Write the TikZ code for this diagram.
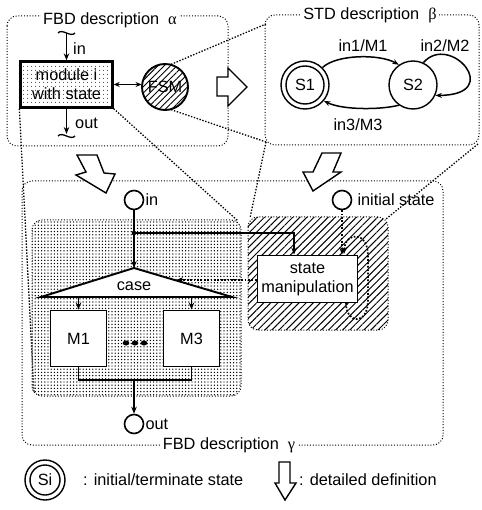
\documentclass[tikz,border=0pt]{standalone}
\usepackage{fontspec}
\setmainfont{Liberation Sans}
\newfontfamily\grk{Liberation Serif}
\usetikzlibrary{arrows.meta,patterns.meta}
\begin{document}
\begin{tikzpicture}[x=1pt,y=-1pt,
  every node/.style={font=\fontsize{16.3}{19}\selectfont, inner sep=1pt},
  frame/.style={line width=1pt, dash pattern=on 1pt off 1.8pt, rounded corners=10pt},
  proj/.style={line width=1.3pt, dash pattern=on 1.4pt off 1.6pt},
  thickbox/.style={draw, line width=1.9pt, fill=white},
  flow/.style={line width=1.5pt, -{Stealth[length=7pt,width=5.5pt]}},
  sflow/.style={line width=1.7pt, dash pattern=on 1.7pt off 1.7pt, -{Stealth[length=7pt,width=5.5pt]}},
  edge/.style={line width=1.5pt, -{Stealth[length=6.5pt,width=5pt]}},
  hollow/.style={draw, line width=1.4pt, fill=white, line join=miter},
  ttl/.style={fill=white, inner sep=2pt},
  port/.style={circle, draw, line width=1.6pt, minimum size=19pt, inner sep=0pt},
  state/.style={circle, draw, line width=1.4pt, inner sep=0pt},
]
\useasboundingbox (0,0) rectangle (481,510);
\fill[white] (0,0) rectangle (481,510);

% ---------- frames ----------
\draw[frame] (7,16) rectangle (228,146);
\draw[frame] (265,15) rectangle (479,145);
\draw[frame] (22,181) rectangle (443,445);

% shaded regions of FBD gamma
\path[pattern={Dots[distance=3.2pt,radius=0.72pt]}, rounded corners=10pt] (32,220) rectangle (241,396);
\draw[frame] (32,220) rectangle (241,396);
\path[pattern={Lines[angle=45,distance=5pt,line width=1pt]}, rounded corners=10pt] (248,217) rectangle (388,330);
\draw[frame] (248,217) rectangle (388,330);

% ---------- FBD alpha contents ----------
\node[draw, line width=2.3pt, pattern={Dots[distance=4pt,radius=0.6pt]}, minimum width=92pt, minimum height=46pt, align=center] (mod) at (66.5,84.5) {module i\\with state};
\node[circle, draw, line width=1.9pt, pattern={Lines[angle=45,distance=4.5pt,line width=0.9pt]}, minimum size=46pt, inner sep=0pt] (fsm) at (165,87) {FSM};
\draw[line width=1.5pt, {Stealth[length=6pt,width=5pt]}-{Stealth[length=6pt,width=5pt]}] (mod.east) -- (mod.east -| fsm.west);

\coordinate (inA) at (66.5,33);
\draw[line width=1.3pt] (58,33) .. controls (62,28) and (71,38) .. (75,33);
\draw[flow] (inA) -- (mod.north);
\coordinate (outA) at (66.5,134);
\draw[flow] (mod.south) -- (outA);
\draw[line width=1.3pt] (58,136) .. controls (62,131) and (71,141) .. (75,136);
\node[anchor=west] (lin) at (72,49) {in};
\node[anchor=west] (lout) at (74,123) {out};

% ---------- STD beta contents ----------
\node[state, minimum size=38pt] (s1) at (305,85) {S1};
\node[state, minimum size=48pt] (s1o) at (305,85) {};
\node[state, minimum size=48pt] (s2) at (413,85) {S2};
\draw[edge] (s1o.45) .. controls (337,54) and (380,54) .. (s2.125);
\draw[edge] (s2.235) .. controls (380,110) and (342,110) .. (s1o.320);
\draw[edge] (s2.65) .. controls (450,32) and (505,95) .. (s2.335);
\node (l1) at (363,46) {in1/M1};
\node (l2) at (445,46) {in2/M2};
\node (l3) at (358,125) {in3/M3};

% ---------- projection lines ----------
\coordinate (bTL) at (266,24);
\coordinate (bBL) at (266,142);
\coordinate (bBR) at (478,144);
\coordinate (gBL) at (34,393);
\coordinate (gTR) at (238,221);
\coordinate (hTL) at (250,218);
\coordinate (hTR) at (386,219);
\draw[proj] (fsm.75) -- (bTL);
\draw[proj] (fsm.285) -- (bBL);
\draw[proj] (mod.south west) -- (gBL);
\draw[proj] (mod.south east) -- (gTR);
\draw[proj] (bBL) -- (hTL);
\draw[proj] (bBR) -- (hTR);

% ---------- hollow arrows ----------
\draw[hollow] (217,77) -- (228,77) -- (228,68) -- (247,87) -- (228,106) -- (228,96) -- (217,96) -- cycle;
\draw[hollow] (77,155) -- (97,155) -- (104,173) -- (115,174) -- (106,193) -- (76,175) -- (86,172) -- cycle;
\draw[hollow] (322,153) -- (341,153) -- (333,172) -- (341,172) -- (313,191) -- (303,172) -- (313,172) -- cycle;

% ---------- titles ----------
\node[ttl] (ta) at (110,20) {FBD description\ \ {\grk α}};
\node[ttl] (tb) at (370,15) {STD description\ \ {\grk β}};
\node[ttl] (tg) at (229,445) {FBD description\ \ {\grk γ}};

% ---------- FBD gamma contents ----------
\node[port] (gin) at (134,200) {};
\node[anchor=west] (ginl) at (gin.east) {in};
\coordinate (jn) at (134,233);
\coordinate (capex) at (134,268);
\coordinate (cL) at (41,297);
\coordinate (cR) at (232,297);
\draw[line width=1.9pt, fill=white, line join=miter] (capex) -- (cR) -- (cL) -- cycle;
\node (case) at (134,286) {case};
\draw[flow] (gin) -- (capex);
\fill (jn) circle (2.3);

\node[thickbox, minimum width=100pt, minimum height=47pt, align=center] (sm) at (307.5,279) {state\\manipulation};
\draw[flow] (jn) -| ([xshift=-13.5pt]sm.north);

\node[port] (ginit) at (342,200) {};
\node[anchor=west, xshift=4pt] (ginitl) at (ginit.east) {initial state};
\draw[sflow] (ginit) -- (ginit |- sm.north);
\draw[sflow] (346,303) .. controls (346,324) and (368,326) .. (368,300) -- (368,256) .. controls (368,230) and (345,232) .. (344,254);

\coordinate (caseIn) at (176,280);
\draw[sflow] (caseIn -| sm.west) -- (caseIn);

\node[thickbox, minimum width=56pt, minimum height=56pt] (m1) at (78.5,338.5) {M1};
\node[thickbox, minimum width=56pt, minimum height=56pt] (m3) at (191.5,338.5) {M3};
\draw[flow] (m1.north |- cL) -- (m1.north);
\draw[flow] (m3.north |- cL) -- (m3.north);
\fill (126,343) ellipse (3.3 and 2.5);
\fill (135,343) ellipse (3.3 and 2.5);
\fill (144,343) ellipse (3.3 and 2.5);
\coordinate (mg) at (134,380);
\draw[line width=1.6pt] (m1.south) |- (mg) -| (m3.south);
\node[port] (gout) at (134,424) {};
\draw[flow] (mg) -- (gout);
\node[anchor=west] (goutl) at (gout.east) {out};

% ---------- legend ----------
\node[state, minimum size=30pt] (si) at (45,480) {Si};
\node[state, minimum size=40pt] (sio) at (45,480) {};
\node[anchor=west] (lg1) at (82,480) {: initial/terminate state};
\draw[hollow] (279,462) -- (290,462) -- (290,483) -- (296,483) -- (285,500) -- (275,483) -- (279,483) -- cycle;
\node[anchor=west] (lg2) at (298,480) {: detailed definition};
\end{tikzpicture}
\end{document}
